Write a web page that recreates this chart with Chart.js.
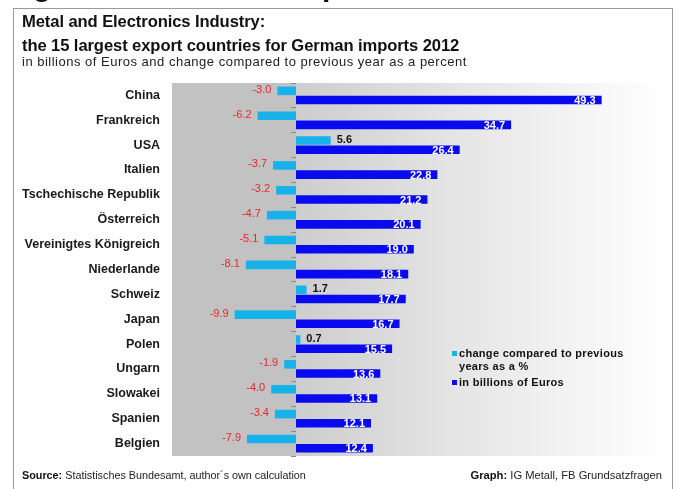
<!DOCTYPE html>
<html>
<head>
<meta charset="utf-8">
<script src="https://cdn.jsdelivr.net/npm/chart.js@4.4.1/dist/chart.umd.min.js"></script>
<style>
  html, body { margin: 0; padding: 0; background: #fff; }
  body { width: 678px; height: 489px; position: relative; overflow: hidden; font-family: "Liberation Sans", Arial, sans-serif; color: #111; }
  #wrap { position: absolute; left: 0; top: 0; width: 678px; height: 489px; }
  .frame { position: absolute; left: 13px; top: 8px; width: 658px; height: 500px; border: 1px solid #9a9a9a; }
  .cut { position: absolute; left: 0; top: 0; width: 678px; height: 8px; overflow: hidden; }
  .cut span { position: absolute; font-weight: bold; font-size: 30px; line-height: 30px; top: -29px; }
  .t1, .t2 { position: absolute; left: 22px; font-weight: bold; font-size: 16.6px; white-space: nowrap; letter-spacing: -0.1px; }
  .t1 { top: 12px; }
  .t2 { top: 36px; }
  .t3 { position: absolute; left: 22px; top: 54px; font-size: 13px; letter-spacing: 0.5px; white-space: nowrap; color: #222; }
  .legend { position: absolute; left: 452px; top: 346px; font-weight: bold; font-size: 11px; line-height: 14px; letter-spacing: 0.3px; color: #111; }
  .legend div { position: relative; padding-left: 7px; }
  .legend i { position: absolute; left: 0; top: 5px; width: 5px; height: 5px; }
  .legend .sub { margin-top: -1px; margin-bottom: 2px; }
  .foot { position: absolute; top: 469px; font-size: 10.8px; white-space: nowrap; color: #222; }
  .foot b { color: #111; }
</style>
</head>
<body>
<div id="wrap"><canvas id="chart" width="678" height="489"></canvas></div>
<div class="frame"></div>
<div class="cut"><span style="left:33px">g</span><span style="left:322px">p</span></div>
<div class="t1">Metal and Electronics Industry:</div>
<div class="t2">the 15 largest export countries for German imports 2012</div>
<div class="t3">in billions of Euros and change compared to previous year as a percent</div>
<div class="legend">
  <div><i style="background:#17b2ea"></i>change compared to previous</div>
  <div class="sub">years as a %</div>
  <div><i style="background:#0a0aee"></i>in billions of Euros</div>
</div>
<div class="foot" style="left:22px"><b>Source:</b> Statistisches Bundesamt, author´s own calculation</div>
<div class="foot" style="right:16px; font-size:11.2px"><b>Graph:</b> IG Metall, FB Grundsatzfragen</div>
<script>
const countries = ['China', 'Frankreich', 'USA', 'Italien', 'Tschechische Republik', 'Österreich',
  'Vereinigtes Königreich', 'Niederlande', 'Schweiz', 'Japan', 'Polen', 'Ungarn', 'Slowakei', 'Spanien', 'Belgien'];
const changePct = [-3.0, -6.2, 5.6, -3.7, -3.2, -4.7, -5.1, -8.1, 1.7, -9.9, 0.7, -1.9, -4.0, -3.4, -7.9];
const billions = [49.3, 34.7, 26.4, 22.8, 21.2, 20.1, 19.0, 18.1, 17.7, 16.7, 15.5, 13.6, 13.1, 12.1, 12.4];

const FONT = "'Liberation Sans', Arial, sans-serif";

// gray on the negative side, fading gradient on the positive side
const plotBackground = {
  id: 'plotBackground',
  beforeDraw(chart) {
    const {ctx, chartArea: a, scales} = chart;
    const x0 = scales.x.getPixelForValue(0);
    ctx.save();
    ctx.fillStyle = '#c2c2c2';
    ctx.fillRect(a.left, a.top, x0 - a.left, a.bottom - a.top);
    const g = ctx.createLinearGradient(x0, 0, a.right, 0);
    g.addColorStop(0, '#cdcdcd');
    g.addColorStop(0.45, '#e6e6e6');
    g.addColorStop(1, '#ffffff');
    ctx.fillStyle = g;
    ctx.fillRect(x0, a.top, a.right - x0, a.bottom - a.top);
    ctx.restore();
  }
};

const barLabels = {
  id: 'barLabels',
  afterDatasetsDraw(chart) {
    const {ctx} = chart;
    ctx.save();
    ctx.textBaseline = 'middle';
    chart.getDatasetMeta(0).data.forEach((bar, i) => {
      const v = changePct[i];
      if (v < 0) {
        ctx.font = '11px ' + FONT;
        ctx.fillStyle = '#e8262c';
        ctx.textAlign = 'right';
        ctx.fillText(v.toFixed(1), bar.x - 6, bar.y - 1);
      } else {
        ctx.font = 'bold 11px ' + FONT;
        ctx.fillStyle = '#111';
        ctx.textAlign = 'left';
        ctx.fillText(v.toFixed(1), bar.x + 6, bar.y - 1);
      }
    });
    chart.getDatasetMeta(1).data.forEach((bar, i) => {
      ctx.font = 'bold 11px ' + FONT;
      ctx.fillStyle = '#fff';
      ctx.textAlign = 'right';
      ctx.fillText(billions[i].toFixed(1), bar.x - 6, bar.y + 1);
    });
    ctx.restore();
  }
};

const ctx = document.getElementById('chart').getContext('2d');
const chart = new Chart(ctx, {
  type: 'bar',
  data: {
    labels: countries,
    datasets: [
      { label: 'change compared to previous years as a %', data: changePct, backgroundColor: '#17b2ea' },
      { label: 'in billions of Euros', data: billions, backgroundColor: '#0a0aee' }
    ]
  },
  options: {
    indexAxis: 'y',
    responsive: false,
    animation: false,
    datasets: { bar: { categoryPercentage: 0.74, barPercentage: 0.93 } },
    layout: { padding: { top: 83, bottom: 33, left: 0, right: 10 } },
    plugins: { legend: { display: false }, tooltip: { enabled: false } },
    scales: {
      x: { min: -20, max: 60, display: false },
      y: {
        grid: { display: false },
        border: { display: false },
        ticks: { color: '#1a1a1a', padding: 4, font: { family: FONT, size: 12.5, weight: 'bold' } },
        afterFit(scale) { scale.width = 172; }
      },
      yTicks: {
        type: 'category',
        axis: 'y',
        labels: countries,
        offset: true,
        position: { x: 0 },
        ticks: { display: false },
        border: { display: false },
        grid: { drawOnChartArea: false, drawTicks: true, tickLength: 5, color: '#8a8a8a', offset: true }
      }
    }
  },
  plugins: [plotBackground, barLabels]
});
</script>
</body>
</html>
